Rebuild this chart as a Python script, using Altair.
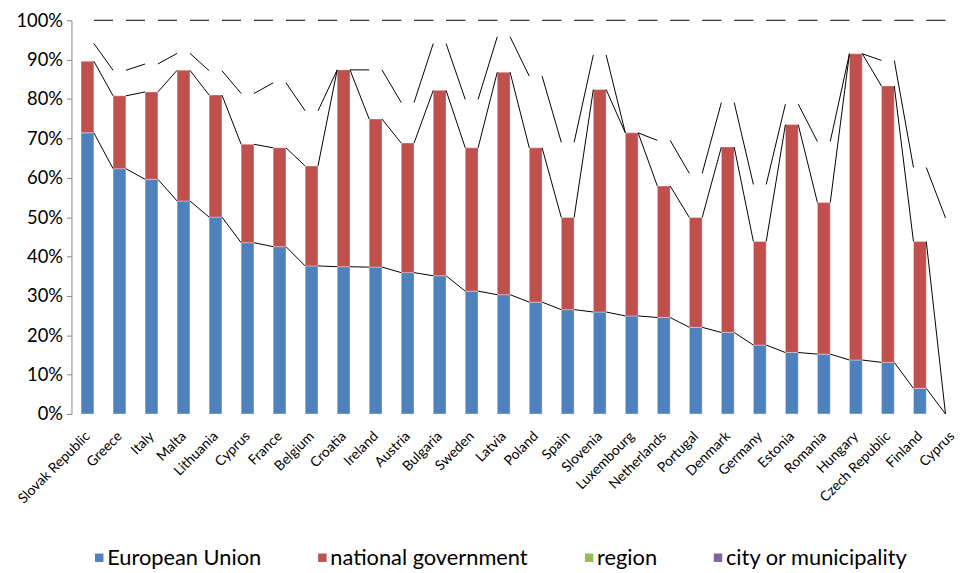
import json
import altair as alt
import pandas as pd

countries = ["Slovak Republic", "Greece", "Italy", "Malta", "Lithuania", "Cyprus",
             "France", "Belgium", "Croatia", "Ireland", "Austria", "Bulgaria",
             "Sweden", "Latvia", "Poland", "Spain", "Slovenia", "Luxembourg",
             "Netherlands", "Portugal", "Denmark", "Germany", "Estonia", "Romania",
             "Hungary", "Czech Republic", "Finland", "Cyprus"]

eu = [71.4, 62.3, 59.6, 54.1, 50.0, 43.5, 42.5, 37.6, 37.4, 37.3, 35.9, 35.1,
      31.2, 30.3, 28.4, 26.5, 25.9, 24.9, 24.5, 22.0, 20.7, 17.5, 15.6, 15.2,
      13.7, 13.1, 6.5, 0.0]
national = [18.2, 18.5, 22.2, 33.2, 31.0, 25.0, 25.1, 25.4, 50.0, 37.6, 32.9, 47.1,
            36.4, 56.5, 39.2, 23.4, 56.5, 46.5, 33.4, 27.9, 47.1, 26.3, 57.9, 38.5,
            77.8, 70.2, 37.3, 0.0]
region = [4.5, 6.5, 7.1, 4.3, 6.2, 12.9, 16.5, 14.0, 0.0, 12.5, 10.3, 11.9,
          12.3, 9.0, 18.2, 19.1, 8.8, 0.0, 11.6, 11.2, 11.3, 14.5, 5.2, 15.5,
          0.0, 6.5, 18.8, 49.8]
city = [5.9, 12.7, 11.1, 8.4, 12.8, 18.6, 15.9, 23.0, 12.6, 12.6, 20.9, 5.9,
        20.1, 4.2, 14.2, 31.0, 8.8, 28.6, 30.5, 38.9, 20.9, 41.7, 21.3, 30.8,
        8.5, 10.2, 37.4, 50.2]

series_names = ["European Union", "national government", "region", "city or municipality"]
series_colors = ["#4F81BD", "#C0504D", "#9BBB59", "#8064A2"]
y_ticks = list(range(0, 101, 10))

n = len(countries)

# filled bar segments (region and city segments are unfilled in the original)
bar_rows = []
for i in range(n):
    bar_rows.append({"idx": i, "series": series_names[0], "order": 0, "share": eu[i]})
    bar_rows.append({"idx": i, "series": series_names[1], "order": 1, "share": national[i]})
bars_df = pd.DataFrame(bar_rows)

# series lines joining the top of each stacked segment between neighbouring bars
shares = [eu, national, region, city]
line_rows = []
for s in range(4):
    tops = [sum(shares[k][i] for k in range(s + 1)) for i in range(n)]
    for i in range(n - 1):
        line_rows.append({"series": series_names[s], "i0": i, "i1": i + 1,
                          "top0": tops[i], "top1": tops[i + 1]})
lines_df = pd.DataFrame(line_rows)

FONT = "Lato"

x_scale = alt.Scale(domain=[-0.5, n - 0.5], range=[0, 904], nice=False, zero=False)
y_scale = alt.Scale(domain=[0, 100], nice=False, zero=True)
color_scale = alt.Scale(domain=series_names, range=series_colors)

label_expr = json.dumps(countries) + "[datum.value]"

x_axis = alt.Axis(values=list(range(n)), labelExpr=label_expr, labelAngle=-45,
                  labelAlign="right", labelBaseline="middle", ticks=False,
                  domain=False, grid=False, title=None, labelFont=FONT,
                  labelFontSize=14, labelColor="black", labelPadding=20,
                  labelOverlap=False, labelBound=False, labelFlush=False)
y_axis = alt.Axis(values=y_ticks, labelExpr="datum.value + '%'", grid=False,
                  title=None, tickSize=5, tickColor="#868686", domainColor="#868686",
                  labelFont=FONT, labelFontSize=18.5, labelColor="black",
                  labelPadding=4)

bars = (
    alt.Chart(bars_df)
    .transform_stack(stack="share", groupby=["idx"], as_=["y0", "y1"],
                     sort=[alt.SortField("order")])
    .transform_calculate(xl="datum.idx - 0.2", xr="datum.idx + 0.2")
    .mark_bar(stroke="white", strokeOpacity=0.35, strokeWidth=1)
    .encode(
        x=alt.X("xl:Q", scale=x_scale, axis=x_axis),
        x2="xr:Q",
        y=alt.Y("y0:Q", scale=y_scale, axis=y_axis),
        y2="y1:Q",
        color=alt.Color(
            "series:N", scale=color_scale,
            legend=alt.Legend(orient="none", legendX=17, legendY=531,
                              direction="horizontal", columns=4, title=None,
                              symbolType="square", symbolSize=72,
                              symbolStrokeWidth=0, labelFont=FONT,
                              labelFontSize=22, labelColor="black",
                              labelLimit=400, columnPadding=50,
                              labelOffset={"expr": "-3"},
                              padding=0, rowPadding=0),
        ),
    )
)

rules = (
    alt.Chart(lines_df)
    .transform_calculate(xa="datum.i0 + 0.2", xb="datum.i1 - 0.2")
    .mark_rule(color="black", strokeWidth=1)
    .encode(
        x=alt.X("xa:Q", scale=x_scale, axis=x_axis),
        x2="xb:Q",
        y=alt.Y("top0:Q", scale=y_scale, axis=y_axis),
        y2="top1:Q",
    )
)

chart = (
    alt.layer(bars, rules)
    .properties(width=885, height=397,
                autosize=alt.AutoSizeParams(type="none"),
                padding={"left": 64, "top": 10, "right": 8, "bottom": 158})
    .configure_view(stroke=None)
)

chart.save("out.html", embed_options={"renderer": "svg", "actions": False})
